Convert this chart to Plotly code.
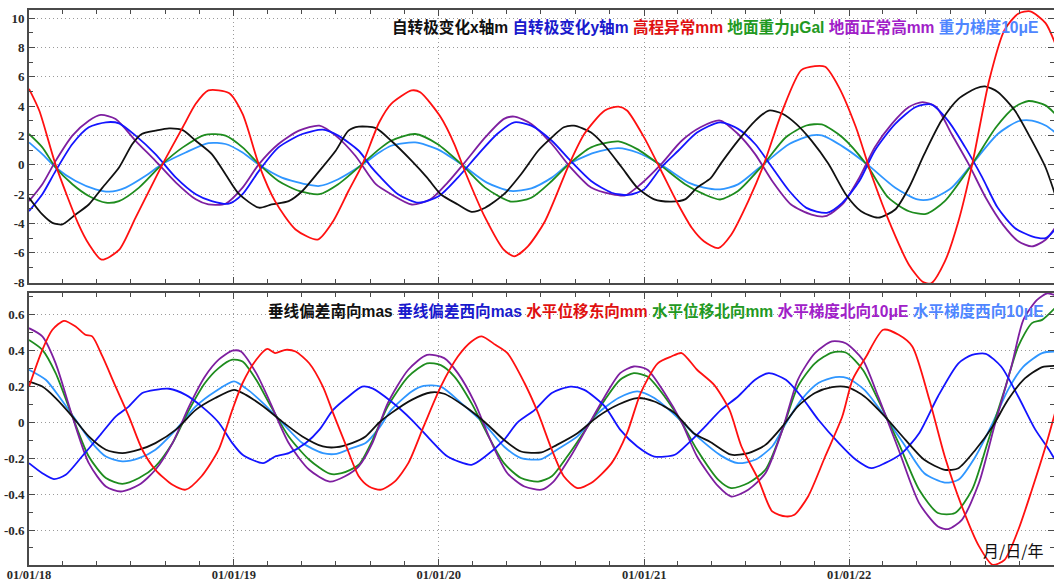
import numpy as np
import pandas as pd
import plotly.graph_objects as go
from plotly.subplots import make_subplots

# ---------------- data (months since 2018-01-01) ----------------
# top panel
tx_m = [0,0.78,1.37,1.95,2.73,3.5,4.3,5.27,6.05,6.6,7.4,8.2,9.0,9.76,10.7,11.5,12.3,13.46,14.2,15.2,16.0,17.0,17.95,18.7,19.3,20.3,21.2,22.4,23.3,24.1,25.1,25.9,26.7,27.8,28.8,29.8,30.6,31.3,31.9,32.9,33.7,34.7,35.6,36.6,37.6,38.4,39.1,39.9,40.5,41.5,42.5,43.3,44.1,44.9,45.8,46.8,47.8,48.7,49.7,50.7,51.5,52.4,53.4,54.4,55.4,55.95,56.7,57.7,58.7,59.5,60.05]
tx_v = [-2.24,-3.38,-3.95,-4.06,-3.38,-2.7,-1.55,-0.18,1.42,2.1,2.33,2.49,2.37,1.64,0.73,-0.64,-2.0,-2.92,-2.7,-2.47,-1.78,-0.41,0.96,2.33,2.6,2.5,1.64,0.27,-0.87,-2.0,-2.7,-3.2,-2.92,-2.0,-0.64,0.96,1.87,2.56,2.67,2.2,1.3,-0.18,-1.55,-2.35,-2.5,-2.35,-1.55,-0.9,0.1,1.65,3.0,3.7,3.48,2.79,1.65,0.05,-2.0,-3.16,-3.6,-3.04,-1.56,0.73,3.0,4.5,5.2,5.35,4.97,3.7,1.65,-0.18,-2.0]

ty_m = [0,0.78,1.56,2.54,3.5,4.5,5.27,6.24,7.4,8.6,9.76,10.7,11.7,12.5,13.46,14.6,16.0,17.2,18.1,19.3,20.0,20.5,21.6,22.8,24.0,25.1,26.3,27.4,28.4,29.4,30.6,31.7,32.9,34.1,35.1,36.0,37.0,38.0,39.1,40.45,41.5,42.5,43.5,44.5,45.5,46.7,47.6,48.6,49.5,50.7,51.9,52.8,53.8,54.8,55.8,56.7,57.7,58.7,59.5,60.05]
ty_v = [-3.15,-2.0,-0.41,1.42,2.56,2.9,2.83,1.99,0.73,-0.87,-2.0,-2.47,-2.65,-2.0,-0.41,1.19,2.1,2.4,1.99,0.96,-0.1,-0.75,-2.0,-2.58,-2.12,-0.87,0.73,2.1,2.9,2.67,1.64,0.27,-1.1,-1.9,-2.05,-1.67,-0.18,0.96,2.2,2.9,2.45,1.42,-0.18,-1.78,-2.93,-3.27,-2.59,-1.1,0.96,2.79,3.94,4.12,3.0,1.19,-0.87,-2.93,-4.3,-4.87,-4.99,-4.4]

th_m = [0,0.6,1.56,2.9,3.5,4.25,5.27,6.24,7.8,9.0,9.76,10.5,11.7,12.5,13.46,14.4,15.6,16.9,17.8,18.7,19.5,20.5,21.2,22.4,22.9,24.1,24.9,25.5,26.7,27.8,28.4,29.2,30.2,31.6,32.5,33.7,34.5,35.0,36.0,37.0,38.0,38.8,39.5,40.35,41.1,42.1,43.0,44.1,45.2,46.0,46.6,47.4,48.4,49.3,50.5,51.5,52.3,52.8,53.6,54.4,55.2,56.2,57.1,57.9,58.6,59.5,60.05]
th_v = [5.18,3.7,0,-4.06,-5.4,-6.46,-5.8,-3.6,0,2.56,4.16,5.07,4.89,3.47,0,-2.47,-4.4,-5.09,-3.84,-1.78,0,2.9,4.16,5.07,4.95,3.24,1.4,-0.4,-3.6,-5.8,-6.23,-5.55,-3.84,0,2.1,3.7,3.97,3.7,1.87,-0.4,-2.7,-4.3,-5.2,-5.67,-4.76,-2.47,0,3.7,6.45,6.73,6.68,5.3,2.56,-0.64,-4.3,-6.8,-7.96,-8.08,-6.6,-3.84,0,5.77,9.2,10.3,10.46,9.66,8.3]

tg_m = [0,0.78,1.56,2.54,3.5,4.5,5.27,6.44,7.8,9.0,10.3,11.5,12.5,13.46,14.6,15.8,17.0,18.1,19.5,20.5,21.2,22.6,23.9,25.3,26.7,28.2,29.4,30.6,31.6,32.9,34.5,35.6,37.0,38.4,39.5,40.45,41.5,43.0,44.3,45.5,46.4,47.6,49.0,50.3,51.5,52.5,53.6,55.2,56.6,57.7,58.5,59.5,60.05]
tg_v = [2.1,1.19,-0.18,-1.32,-2.12,-2.58,-2.47,-1.55,0.05,1.19,2.05,1.99,1.19,0.05,-1.1,-1.78,-2.0,-1.32,0.05,1.07,1.64,2.1,1.42,0.05,-1.55,-2.5,-2.24,-1.1,0.05,1.19,1.6,1.07,-0.07,-1.32,-2.0,-2.36,-1.78,0.05,1.88,2.68,2.75,1.88,0.05,-2.24,-3.16,-3.34,-2.47,0.05,2.56,3.94,4.35,4.05,3.48]

tn_m = [0,0.78,1.56,2.54,3.5,4.2,5.07,6.24,7.4,8.6,9.76,10.5,11.5,12.5,13.46,14.6,15.8,17.0,17.95,19.1,20.3,21.2,22.4,23.5,24.5,25.5,26.7,27.8,28.4,29.4,30.6,31.7,32.9,34.1,34.9,35.8,37.0,38.2,39.3,40.45,41.5,42.5,43.5,44.6,45.8,46.6,47.6,48.6,49.5,50.5,51.5,52.3,53.1,54.0,55.0,56.0,57.0,57.9,58.7,59.5,60.05]
tn_v = [-2.47,-1.32,0.27,1.99,3.0,3.4,3.13,1.64,0.27,-1.21,-2.35,-2.7,-2.65,-1.55,0.05,1.42,2.33,2.67,1.99,0.62,-1.32,-2.0,-2.7,-2.35,-1.21,0.16,1.87,3.13,3.29,2.79,1.42,-0.18,-1.55,-2.0,-2.08,-1.32,0.05,1.64,2.56,3.02,2.1,0.73,-1.1,-2.7,-3.39,-3.5,-2.7,-0.87,1.19,2.79,3.94,4.28,3.94,2.1,0.05,-2.24,-4.07,-5.2,-5.56,-5.1,-4.3]

tt_m = [0,0.78,1.56,2.73,3.9,4.7,5.66,6.83,7.8,9.17,10.5,11.5,12.5,13.46,14.8,16.4,17.0,18.1,19.5,20.5,21.2,22.6,23.9,25.3,26.8,28.2,29.4,30.6,31.6,33.1,34.5,35.6,37.0,38.6,39.5,40.45,41.5,43.0,44.5,45.8,46.4,47.7,49.1,50.7,52.0,52.8,54.0,55.2,56.7,57.9,58.7,59.5,60.05]
tt_v = [1.53,0.73,-0.18,-1.1,-1.67,-1.83,-1.55,-0.75,0.05,0.84,1.48,1.42,0.84,0.0,-0.87,-1.37,-1.44,-0.98,0.0,0.84,1.3,1.53,1.07,0.05,-1.21,-1.78,-1.6,-0.87,0.05,0.84,1.14,0.84,0.0,-1.21,-1.55,-1.67,-1.33,0.05,1.42,2.0,2.0,1.19,0.0,-1.56,-2.36,-2.33,-1.56,0.05,2.1,2.97,3.02,2.68,2.22]

# bottom panel
bs_m = [0,0.78,1.56,2.54,3.5,4.5,5.46,6.44,7.4,8.6,9.76,10.9,12.0,12.7,13.7,14.8,16.0,17.2,18.0,18.9,19.7,20.5,21.2,22.4,23.5,24.3,25.5,26.7,27.8,28.8,30.0,30.9,32.1,33.3,34.5,35.6,36.6,37.8,38.9,39.9,41.1,42.1,43.1,44.1,45.0,46.0,47.0,47.9,48.9,50.1,51.3,52.4,53.6,54.4,55.4,56.4,57.3,58.2,59.3,60.05]
bs_v = [0.228,0.2,0.136,0.033,-0.078,-0.152,-0.171,-0.152,-0.115,-0.04,0.07,0.136,0.182,0.154,0.09,0.006,-0.078,-0.134,-0.138,-0.115,-0.078,0.0,0.052,0.126,0.167,0.16,0.09,0.0,-0.097,-0.162,-0.167,-0.125,-0.06,0.033,0.1,0.136,0.117,0.052,-0.06,-0.11,-0.18,-0.171,-0.125,-0.022,0.09,0.164,0.197,0.197,0.145,0.033,-0.097,-0.208,-0.264,-0.255,-0.152,-0.022,0.126,0.238,0.309,0.316]

bw_m = [0,0.78,1.46,2.15,3.1,4.1,5.07,5.85,6.63,7.4,8.2,9.17,10.1,11.1,11.9,12.5,13.7,14.4,15.2,16.2,17.0,17.8,18.7,19.5,20.1,21.2,22.4,23.5,24.5,25.9,26.7,27.8,28.6,29.6,30.6,31.7,32.5,33.7,34.6,35.6,36.6,37.8,38.6,39.5,40.5,41.5,42.5,43.3,44.3,45.2,46.2,47.4,48.4,49.3,50.1,51.1,52.1,53.2,54.4,55.2,56.0,56.9,57.9,58.9,59.7,60.05]
bw_v = [-0.227,-0.283,-0.316,-0.292,-0.19,-0.078,0.033,0.09,0.164,0.182,0.188,0.154,0.09,0.0,-0.115,-0.18,-0.227,-0.19,-0.171,-0.115,-0.04,0.07,0.145,0.2,0.19,0.117,0.015,-0.097,-0.19,-0.236,-0.19,-0.097,0.0,0.07,0.164,0.2,0.182,0.09,-0.04,-0.134,-0.19,-0.18,-0.115,-0.03,0.07,0.145,0.238,0.275,0.238,0.145,0.015,-0.115,-0.208,-0.255,-0.227,-0.171,-0.06,0.145,0.33,0.377,0.383,0.312,0.145,-0.04,-0.152,-0.208]

be_m = [0,0.78,1.37,2.05,2.73,3.3,3.7,4.3,5.07,5.85,6.63,7.4,8.4,9.17,10.1,11.1,11.9,12.5,13.3,13.95,14.4,15.0,15.6,16.4,17.2,17.8,18.5,19.3,19.9,20.6,21.4,22.2,23.1,24.1,25.1,25.9,26.5,27.3,28.0,29.0,29.8,30.6,31.3,32.1,32.9,34.1,35.0,35.8,36.8,37.6,38.2,39.1,40.1,41.0,41.7,42.7,43.5,44.3,44.8,45.6,46.6,47.6,48.2,49.0,50.0,50.9,51.7,52.7,53.6,54.6,55.6,56.4,57.1,57.9,58.7,59.5,60.05]
be_v = [0.2,0.405,0.517,0.567,0.535,0.489,0.48,0.368,0.2,0.033,-0.152,-0.264,-0.348,-0.375,-0.3,-0.152,0.07,0.22,0.35,0.41,0.387,0.405,0.396,0.33,0.2,0.052,-0.115,-0.3,-0.357,-0.375,-0.33,-0.227,-0.022,0.2,0.368,0.452,0.48,0.433,0.387,0.22,0.052,-0.152,-0.3,-0.366,-0.338,-0.227,-0.06,0.164,0.33,0.368,0.387,0.294,0.21,0.07,-0.134,-0.32,-0.496,-0.524,-0.515,-0.413,-0.19,0.033,0.238,0.368,0.517,0.489,0.424,0.126,-0.19,-0.468,-0.69,-0.794,-0.766,-0.6,-0.375,-0.134,0.052]

bn_m = [0,0.78,1.56,2.54,3.5,4.5,5.46,6.44,7.4,8.4,9.37,10.3,11.1,11.9,12.5,13.3,14.05,15.2,16.4,17.6,18.3,19.3,20.1,21.0,22.2,23.3,24.1,24.9,25.9,26.8,27.8,28.8,29.8,30.6,31.5,32.7,33.7,34.6,35.4,36.2,37.2,38.2,39.1,40.35,41.1,42.1,43.1,44.1,45.0,46.0,47.0,47.8,48.8,49.7,50.9,52.1,53.2,54.2,55.2,56.1,57.1,57.9,58.7,59.3,60.05]
bn_v = [0.46,0.405,0.275,0.033,-0.19,-0.31,-0.342,-0.31,-0.245,-0.115,0.07,0.22,0.303,0.35,0.34,0.238,0.108,-0.078,-0.208,-0.286,-0.283,-0.236,-0.1,0.09,0.256,0.33,0.32,0.256,0.108,-0.06,-0.227,-0.31,-0.33,-0.3,-0.19,-0.022,0.126,0.238,0.275,0.256,0.145,0.0,-0.152,-0.32,-0.366,-0.338,-0.264,-0.04,0.2,0.33,0.39,0.39,0.294,0.126,-0.115,-0.375,-0.505,-0.505,-0.375,-0.115,0.182,0.424,0.554,0.572,0.638]

bgn_m = [0,0.78,1.56,2.54,3.5,4.5,5.37,6.44,7.4,8.4,9.37,10.3,11.1,11.9,12.4,13.3,14.05,15.2,16.4,17.6,18.5,19.3,20.1,21.0,22.2,23.3,24.3,25.1,26.1,27.0,28.0,29.0,30.0,30.7,31.7,32.7,33.7,34.6,35.4,36.2,37.2,38.2,39.1,40.35,41.1,42.1,43.1,44.1,45.0,46.0,47.0,47.8,48.8,49.7,50.9,52.1,53.2,53.8,54.6,55.6,56.5,57.5,58.2,59.0,59.6,60.05]
bgn_v = [0.526,0.48,0.33,0.033,-0.227,-0.357,-0.385,-0.348,-0.264,-0.115,0.09,0.256,0.35,0.4,0.396,0.275,0.126,-0.115,-0.264,-0.33,-0.3,-0.245,-0.115,0.108,0.294,0.377,0.359,0.275,0.108,-0.097,-0.283,-0.357,-0.375,-0.33,-0.19,-0.022,0.145,0.275,0.312,0.294,0.164,0.0,-0.19,-0.357,-0.413,-0.375,-0.283,-0.04,0.238,0.387,0.452,0.442,0.35,0.145,-0.152,-0.45,-0.58,-0.595,-0.543,-0.338,-0.022,0.312,0.572,0.684,0.72,0.71]

bgw_m = [0,0.98,1.76,2.73,3.7,4.5,5.46,6.44,7.4,8.6,9.76,10.9,12.0,12.7,13.7,14.8,16.0,17.2,18.0,18.9,19.7,20.5,21.2,22.4,23.1,24.1,25.3,26.7,27.8,28.8,30.0,30.9,32.1,33.3,34.5,35.6,36.6,37.9,39.1,40.5,41.5,42.5,43.5,44.3,45.2,46.2,47.2,47.9,48.9,50.1,51.3,52.4,53.6,54.4,55.4,56.4,57.3,58.2,59.3,60.05]
bgw_v = [0.294,0.238,0.145,0.015,-0.115,-0.19,-0.217,-0.199,-0.152,-0.04,0.09,0.173,0.229,0.19,0.108,0.0,-0.115,-0.171,-0.175,-0.143,-0.115,-0.03,0.07,0.173,0.204,0.2,0.108,-0.013,-0.134,-0.199,-0.204,-0.152,-0.078,0.052,0.136,0.173,0.136,0.033,-0.078,-0.185,-0.227,-0.208,-0.134,-0.004,0.126,0.22,0.253,0.247,0.182,0.033,-0.134,-0.283,-0.335,-0.32,-0.19,-0.004,0.182,0.312,0.387,0.396]

top_labels = ["自转极变化x轴m", "自转极变化y轴m", "高程异常mm", "地面重力μGal", "地面正常高mm", "重力梯度10μE"]
bottom_labels = ["垂线偏差南向mas", "垂线偏差西向mas", "水平位移东向mm", "水平位移北向mm", "水平梯度北向10μE", "水平梯度西向10μE"]
line_colors = ["#111111", "#1414ff", "#ff1010", "#1e8c1e", "#7e1fa0", "#2f96ff"]
label_colors = ["#111111", "#1a1acc", "#e01010", "#229922", "#a020c8", "#4f86ff"]

top_ticks = [-8, -6, -4, -2, 0, 2, 4, 6, 8, 10]
top_ticktext = ["-8", "-6", "-4", "-2", "0", "2", "4", "6", "8", "10"]
bot_ticks = [-0.6, -0.4, -0.2, 0, 0.2, 0.4, 0.6]
bot_ticktext = ["-0.6", "-0.4", "-0.2", "0", "0.2", "0.4", "0.6"]
x_ticks = ["2018-01-01", "2019-01-01", "2020-01-01", "2021-01-01", "2022-01-01"]
x_ticktext = ["01/01/18", "01/01/19", "01/01/20", "01/01/21", "01/01/22"]
axis_caption = "月/日/年"

# ---------------- figure ----------------
BASE = pd.Timestamp("2018-01-01")


def to_dates(months):
    return BASE + pd.to_timedelta(np.array(months) * 30.436875, unit="D")


fig = make_subplots(rows=2, cols=1)

top_series = [(tx_m, tx_v), (ty_m, ty_v), (th_m, th_v), (tg_m, tg_v), (tn_m, tn_v), (tt_m, tt_v)]
bot_series = [(bs_m, bs_v), (bw_m, bw_v), (be_m, be_v), (bn_m, bn_v), (bgn_m, bgn_v), (bgw_m, bgw_v)]
order = [5, 3, 4, 1, 0, 2]
for i in order:
    m, v = top_series[i]
    fig.add_trace(go.Scatter(x=to_dates(m), y=v, mode="lines", name=top_labels[i],
                             line=dict(color=line_colors[i], width=1.8, shape="spline", smoothing=0.7),
                             showlegend=False, hoverinfo="skip"), row=1, col=1)
for i in order:
    m, v = bot_series[i]
    fig.add_trace(go.Scatter(x=to_dates(m), y=v, mode="lines", name=bottom_labels[i],
                             line=dict(color=line_colors[i], width=1.8, shape="spline", smoothing=0.7),
                             showlegend=False, hoverinfo="skip"), row=2, col=1)

W, H = 1054, 581
ML, MR, MT, MB = 29, 0, 10, 16
PH = H - MT - MB

def ydom(top_px, bot_px):
    return [(H - MB - bot_px) / PH, (H - MB - top_px) / PH]

axis_common = dict(showline=True, linecolor="#4a4a4a", linewidth=1.6, mirror="allticks",
                   ticks="inside", ticklen=6, tickcolor="#4a4a4a", tickwidth=1.2,
                   showgrid=True, gridcolor="#9a9a9a", griddash="1px,3px", gridwidth=1,
                   zeroline=False, automargin=False,
                   tickfont=dict(family="Liberation Serif", size=13, color="#2a2a2a", weight="bold"))

xaxis_kw = dict(type="date", range=["2018-01-01", "2023-01-01"], tickvals=x_ticks, ticktext=x_ticktext,
                minor=dict(dtick="M2", tick0="2018-01-01", ticks="inside", ticklen=4,
                           tickcolor="#4a4a4a", showgrid=False),
                **axis_common)
fig.update_xaxes(**xaxis_kw)
fig.update_xaxes(showticklabels=False, row=1, col=1)
fig.update_xaxes(showticklabels=True, ticklabelstandoff=-3,
                 tickfont=dict(family="Liberation Serif", size=12.5, color="#2a2a2a", weight="bold"),
                 row=2, col=1)

fig.update_yaxes(range=[-8.05, 10.55], tickvals=top_ticks, ticktext=top_ticktext,
                 minor=dict(dtick=1, tick0=0, ticks="inside", ticklen=4, tickcolor="#4a4a4a", showgrid=False),
                 domain=ydom(10, 283), **axis_common, row=1, col=1)
fig.update_yaxes(range=[-0.795, 0.722], tickvals=bot_ticks, ticktext=bot_ticktext,
                 minor=dict(dtick=0.1, tick0=0, ticks="inside", ticklen=4, tickcolor="#4a4a4a", showgrid=False),
                 domain=ydom(293, 565), **axis_common, row=2, col=1)


def legend_html(labels):
    parts = []
    for lab, col in zip(labels, label_colors):
        parts.append('<span style="color:%s">%s</span>' % (col, lab))
    return " ".join(parts)

legend_font = dict(family="Liberation Sans, Noto Sans CJK SC", size=15.6, weight="bold")
PW = W - ML - MR
fig.add_annotation(xref="paper", yref="paper", x=(1040 - ML) / PW, y=(H - MB - 27) / PH,
                   xanchor="right", yanchor="middle", showarrow=False,
                   text=legend_html(top_labels), font=legend_font)
fig.add_annotation(xref="paper", yref="paper", x=(1046 - ML) / PW, y=(H - MB - 311) / PH,
                   xanchor="right", yanchor="middle", showarrow=False,
                   text=legend_html(bottom_labels), font=legend_font)
fig.add_annotation(xref="paper", yref="paper", x=(1046 - ML) / PW, y=(H - MB - 550) / PH,
                   xanchor="right", yanchor="middle", showarrow=False,
                   text=axis_caption, font=dict(family="Noto Sans CJK SC", size=16, color="#111111"))

fig.update_layout(width=W, height=H, margin=dict(l=ML, r=MR, t=MT, b=MB, autoexpand=False),
                  paper_bgcolor="white", plot_bgcolor="white", showlegend=False)

fig.write_html("out.html", config={"displayModeBar": False},
               post_script="document.body.style.margin='0px';document.body.style.overflow='hidden';")
